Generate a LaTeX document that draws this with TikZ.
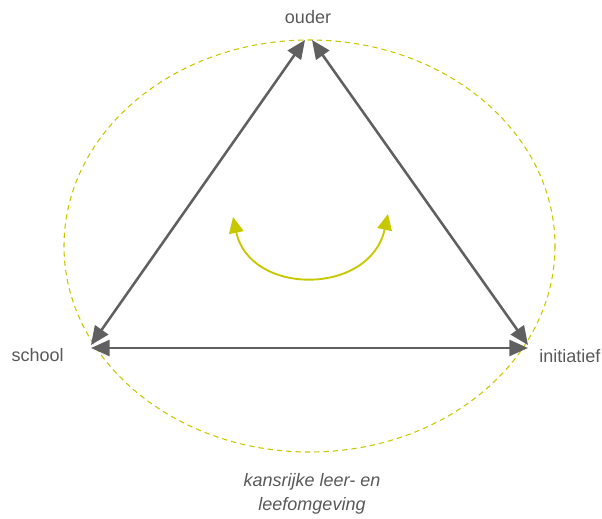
\documentclass[tikz,border=0pt]{standalone}
\usepackage{fontspec}
\setmainfont{Liberation Sans}
\usetikzlibrary{arrows.meta}
\definecolor{txtgray}{HTML}{595959}
\definecolor{arrgray}{HTML}{606060}
\definecolor{lime}{HTML}{C8C800}
\tikzset{
  lbl/.style={text=txtgray,font=\fontsize{13.5}{18}\selectfont,inner sep=0pt},
  biarrow/.style={draw=arrgray,line width=1.9pt,{Triangle[length=14pt,width=12pt]}-{Triangle[length=14pt,width=12pt]}},
  curvearrow/.style={draw=lime,line width=1.4pt,{Triangle[length=12pt,width=11pt]}-{Triangle[length=12pt,width=11pt]}},
  ring/.style={draw=lime,line width=0.8pt,dash pattern=on 4pt off 3pt}
}
\begin{document}
\begin{tikzpicture}[x=0.75pt,y=-0.75pt]
\useasboundingbox (0,0) rectangle (602,518);
\draw[ring] (309.5,246) ellipse [x radius=245.5, y radius=206];
\coordinate (T1) at (305,40);
\coordinate (T2) at (312,40);
\coordinate (L1) at (91,345);
\coordinate (L2) at (91,348);
\coordinate (R1) at (528,345);
\coordinate (R2) at (528,348);
\draw[biarrow] (L1) -- (T1);
\draw[biarrow] (T2) -- (R1);
\draw[biarrow] (L2) -- (R2);
\coordinate (CL) at (233,217);
\coordinate (CR) at (388,214);
\draw[curvearrow] (CL) .. controls (250,296) and (370,296) .. (CR);
\node[lbl] (ouder) at (308,17) {ouder};
\node[lbl,anchor=east] (school) at (64,355) {school};
\node[lbl,anchor=west] (init) at (539,356) {initiatief};
\node[lbl,align=center,font=\fontsize{13.5}{18}\selectfont\itshape] (kans) at (312,494) {kansrijke leer- en\\leefomgeving};
\end{tikzpicture}
\end{document}
